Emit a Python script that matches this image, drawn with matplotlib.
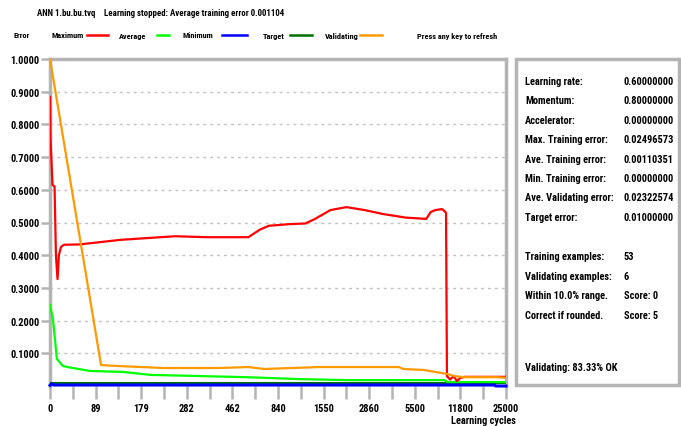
import matplotlib
matplotlib.use("Agg")
import matplotlib.pyplot as plt
from matplotlib.patches import Rectangle
from matplotlib import font_manager

# ---- font: prefer a narrow/condensed sans if one is installed ----
_fam = "Liberation Sans"
_stretch = "normal"
_names = {f.name for f in font_manager.fontManager.ttflist}
for cand in ["Liberation Sans Narrow", "Arial Narrow", "Roboto Condensed", "Open Sans Condensed"]:
    if cand in _names:
        _fam = cand
        break
else:
    for f in font_manager.fontManager.ttflist:
        if str(f.stretch) in ("condensed", "semi-condensed", "extra-condensed") and \
                f.name in ("DejaVu Sans", "Roboto", "Open Sans", "Noto Sans", "Inter", "Lato"):
            _fam = f.name
            _stretch = "condensed"
            break
plt.rcParams['font.family'] = [_fam, 'Liberation Sans', 'DejaVu Sans']
plt.rcParams['font.stretch'] = _stretch
plt.rcParams['font.weight'] = 'bold'

W, H = 681, 427

# ---- data (x in tick-position units, 0..20; y = error) ----
tick_labels = ["0", "89", "179", "282", "462", "840", "1550", "2860", "5500", "11800", "25000"]

max_x = [0, 0.02, 0.07, 0.11, 0.2, 0.26, 0.33, 0.39, 0.48, 0.61, 1.3, 2.2, 3.1, 4.4, 5.5,
         6.9, 8.7, 9.2, 9.6, 10.5, 11.2, 11.6, 12.3, 13.0, 13.8, 14.6, 15.6, 16.5, 16.7,
         16.9, 17.2, 17.37, 17.41, 17.55, 17.7, 17.85, 18.0, 18.2, 20.0]
max_y = [0.884, 0.76, 0.68, 0.615, 0.61, 0.40, 0.327, 0.40, 0.425, 0.432, 0.433, 0.44,
         0.447, 0.453, 0.458, 0.455, 0.455, 0.478, 0.49, 0.495, 0.497, 0.51, 0.538, 0.547,
         0.538, 0.526, 0.515, 0.511, 0.532, 0.538, 0.541, 0.53, 0.03, 0.02, 0.03, 0.015,
         0.025, 0.028, 0.028]

avg_x = [0, 0.13, 0.3, 0.57, 1.0, 1.75, 3.2, 4.4, 8.6, 11.0, 13.0, 17.3, 17.45, 20.0]
avg_y = [0.248, 0.205, 0.083, 0.061, 0.055, 0.046, 0.043, 0.034, 0.027, 0.021, 0.018,
         0.018, 0.012, 0.012]

min_x = [0, 0.05, 0.1, 0.15, 0.2, 19.5, 19.55, 20.0]
min_y = [0.002, 0.006, 0.006, 0.003, 0.003, 0.003, 0.0, 0.0]

target_x = [0, 20]
target_y = [0.01, 0.01]

val_x = [0, 2.24, 3.0, 4.0, 5.0, 7.4, 8.7, 9.4, 11.8, 15.3, 15.5, 16.4, 16.9, 17.4, 17.75,
         18.2, 19.6, 20.0]
val_y = [1.0, 0.064, 0.061, 0.058, 0.055, 0.055, 0.058, 0.052, 0.058, 0.058, 0.052, 0.049,
         0.043, 0.037, 0.030, 0.027, 0.027, 0.025]

panel_labels = ["Learning rate:", "Momentum:", "Accelerator:", "Max. Training error:",
                "Ave. Training error:", "Min. Training error:", "Ave. Validating error:",
                "Target error:"]
panel_values = ["0.60000000", "0.80000000", "0.00000000", "0.02496573", "0.00110351",
                "0.00000000", "0.02322574", "0.01000000"]
panel2_labels = ["Training examples:", "Validating examples:", "Within 10.0% range.",
                 "Correct if rounded."]
panel2_values = ["53", "6", "Score: 0", "Score: 5"]

GRAY = "#b4b4b4"

fig = plt.figure(figsize=(W / 100, H / 100), dpi=100)
fig.patch.set_facecolor("white")

# calibrate font sizes on text widths measured in the reference
_r = fig.canvas.get_renderer()


def _width(s, size):
    t = fig.text(0, 0, s, fontsize=size)
    w = t.get_window_extent(renderer=_r).width
    t.remove()
    return w


def _fit(s, target, size=7.0):
    for _ in range(6):
        size = size * target / _width(s, size)
    return size


FS = _fit("Max. Training error:", 83)
FS_LEG = _fit("Press any key to refresh", 80)
FS_TITLE = FS_LEG * 1.08


def fx(px):
    return px / W


def fy(py):
    return 1 - py / H


ax = fig.add_axes([fx(50), fy(387), (506 - 50) / W, (387 - 60) / H])
ax.set_xlim(0, 20)
ax.set_ylim(0, 1)
ax.set_facecolor("white")

for yv in [0.1, 0.2, 0.3, 0.4, 0.5, 0.6, 0.7, 0.8, 0.9]:
    ax.axhline(yv, color="#c0c0c0", lw=1, ls=(0, (2, 3)), zorder=1)

ax.plot(target_x, target_y, color="#007000", lw=1.5, zorder=3)
ax.plot(avg_x, avg_y, color="#00ff00", lw=1.6, zorder=4)
ax.plot(max_x, max_y, color="#ff0000", lw=1.6, zorder=5)
ax.plot(val_x, val_y, color="#ff9900", lw=1.6, zorder=5.5)
ax.plot(min_x, min_y, color="#0000ff", lw=2.2, zorder=6, clip_on=False)

for s in ["top", "left", "right"]:
    ax.spines[s].set_color(GRAY)
    ax.spines[s].set_linewidth(2.5)
ax.spines["bottom"].set_visible(False)

ax.set_xticks(range(21))
ax.set_xticklabels([tick_labels[i // 2] if i % 2 == 0 else "" for i in range(21)],
                   fontsize=FS)
ax.tick_params(axis="x", length=9.5, width=1.8, color=GRAY, pad=3)

yt = [0.1 * i for i in range(1, 11)]
ax.set_yticks(yt)
ax.set_yticklabels(["%.4f" % v for v in yt], fontsize=FS)
ax.tick_params(axis="y", length=6.5, width=1.8, color=GRAY, pad=1)

fig.text(fx(516), fy(421), "Learning cycles", ha="right", va="center", fontsize=FS)

# ---- header texts ----
fig.text(fx(37), fy(13), "ANN 1.bu.bu.tvq", fontsize=FS_TITLE, va="center")
fig.text(fx(104), fy(13), "Learning stopped: Average training error 0.001104",
         fontsize=FS_TITLE, va="center")

legend_items = [("Maximum", 52, 87, 108, "#ff0000"),
                ("Average", 119, 157, 169, "#00ff00"),
                ("Minimum", 183, 222, 247, "#0000ff"),
                ("Target", 263, 290, 312, "#007000"),
                ("Validating", 325, 360, 382, "#ff9900")]
fig.text(fx(14), fy(36), "Error", fontsize=FS_LEG, va="center")
for name, tx, l0, l1, col in legend_items:
    fig.text(fx(tx), fy(36), name, fontsize=FS_LEG, va="center")
    fig.add_artist(plt.Line2D([fx(l0), fx(l1)], [fy(36), fy(36)], color=col, lw=1.8,
                              transform=fig.transFigure))
fig.text(fx(417), fy(36), "Press any key to refresh", fontsize=FS_LEG, va="center")

# ---- right panel ----
fig.add_artist(Rectangle((fx(516), fy(386)), (679 - 516) / W, (386 - 60) / H,
                         transform=fig.transFigure, fill=False, edgecolor=GRAY, lw=2.5))
for i, (lab, val) in enumerate(zip(panel_labels, panel_values)):
    yy = 82 + i * 19.4
    fig.text(fx(525), fy(yy), lab, fontsize=FS, va="center")
    fig.text(fx(624), fy(yy), val, fontsize=FS, va="center")
for i, (lab, val) in enumerate(zip(panel2_labels, panel2_values)):
    yy = 257 + i * 19.6
    fig.text(fx(525), fy(yy), lab, fontsize=FS, va="center")
    fig.text(fx(624), fy(yy), val, fontsize=FS, va="center")
fig.text(fx(525), fy(368), "Validating: 83.33% OK", fontsize=FS, va="center")

fig.savefig("out.png", dpi=100)
